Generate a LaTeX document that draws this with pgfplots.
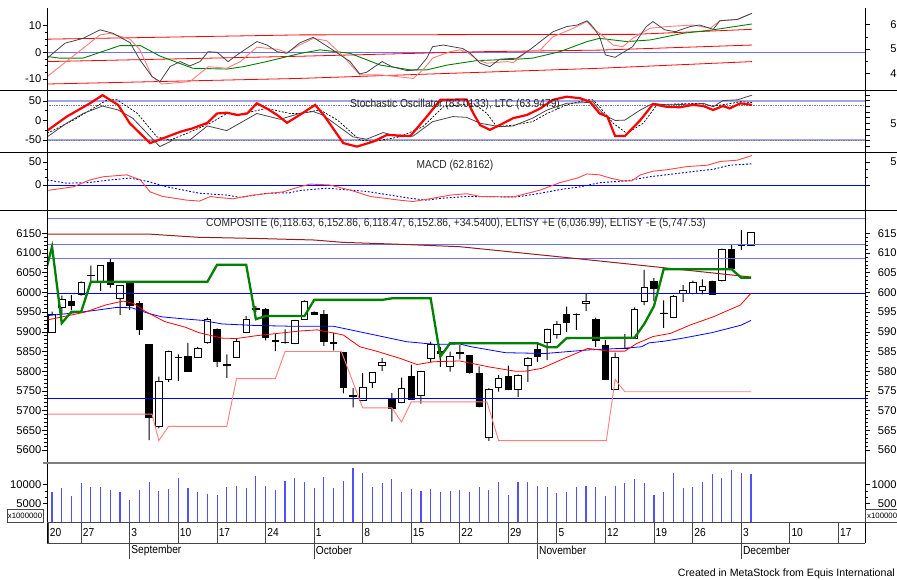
\documentclass[border=0pt]{standalone}
\usepackage{pgfplots}
\pgfplotsset{compat=1.18}
\usepackage{pgfplotstable}
\usepackage{fontspec}
\setmainfont{Liberation Sans}
\newfontfamily\narrowfont[FakeStretch=0.88]{Liberation Sans}

\definecolor{msred}{RGB}{255,0,0}
\definecolor{mspink}{RGB}{255,125,125}
\definecolor{msgreen}{RGB}{0,128,0}
\definecolor{msblue}{RGB}{0,0,255}
\definecolor{mslblue}{RGB}{110,110,255}
\definecolor{msbrown}{RGB}{150,30,30}
\definecolor{msvol}{RGB}{80,80,255}
\definecolor{lav}{RGB}{165,165,230}
\definecolor{msgray}{RGB}{70,70,70}
\definecolor{msmacd}{RGB}{255,70,70}
\definecolor{msdblue}{RGB}{0,0,190}

\pgfplotstableread{
i o h l c v
0 5899 5951 5897 5944 7950
1 5963 5992 5945 5982 9080
2 5976 5993 5955 5968 6970
3 5994 6028 5992 6026 10390
4 6043 6068 6028 6044 9430
5 6027 6069 6004 6068 9430
6 6076 6087 6012 6021 8640
7 5985 6018 5943 6017 8110
8 6026 6028 5955 5968 5920
9 5972 5978 5892 5907 8640
10 5867 5867 5625 5682 10660
11 5659 5786 5655 5775 8370
12 5780 5852 5773 5850 8900
13 5834 5843 5775 5836 11630
14 5838 5872 5800 5800 9080
15 5836 5862 5834 5858 8110
16 5872 5936 5870 5932 7500
17 5907 5909 5811 5826 7240
18 5817 5843 5783 5815 9430
19 5836 5882 5835 5875 9690
20 5899 5940 5897 5932 9080
21 5960 5966 5950 5957 12150
22 5957 5960 5878 5887 9690
23 5877 5896 5851 5876 8640
24 5874 5906 5870 5872 10920
25 5871 5930 5869 5928 11630
26 5932 5980 5930 5978 10660
27 5949 5952 5943 5945 9080
28 5945 5955 5864 5875 11890
29 5873 5898 5853 5871 9080
30 5847 5849 5744 5758 10920
31 5738 5757 5708 5737 14420
32 5727 5795 5725 5759 13100
33 5772 5798 5758 5796 9430
34 5815 5833 5800 5822 10390
35 5729 5745 5672 5706 11370
36 5721 5784 5719 5757 7950
37 5786 5817 5728 5729 8900
38 5738 5801 5718 5799 8370
39 5833 5875 5824 5868 8900
40 5850 5862 5811 5845 7950
41 5811 5850 5799 5837 8370
42 5848 5866 5830 5846 8640
43 5839 5841 5794 5796 7950
44 5795 5812 5708 5710 9430
45 5631 5757 5623 5755 8640
46 5758 5790 5748 5783 10660
47 5786 5814 5752 5754 7240
48 5754 5792 5735 5790 10660
49 5816 5836 5773 5833 10660
50 5855 5871 5824 5837 9690
51 5873 5908 5828 5906 9430
52 5894 5927 5883 5919 7680
53 5944 5964 5900 5923 7950
54 5944 5947 5905 5943 9430
55 5973 5998 5953 5978 9690
56 5932 5936 5862 5877 9430
57 5865 5879 5778 5780 6970
58 5755 5847 5753 5836 9690
59 5858 5894 5856 5859 10390
60 5884 5962 5882 5957 11370
61 5976 6057 5968 6013 10390
62 6028 6036 5978 6009 7240
63 5948 5980 5910 5946 8110
64 5937 5993 5935 5991 13100
65 5998 6019 5976 6005 9080
66 5998 6030 5995 6025 9430
67 6004 6033 5995 6014 10660
68 6027 6030 5994 5995 12840
69 6031 6111 6028 6109 11630
70 6108 6120 6058 6061 13820
71 6120 6158 6108 6119 13100
72 6118.63 6152.86 6118.47 6152.86 12840
}\candles

\pgfplotsset{
  base/.style={scale only axis, width=818pt, anchor=south west,
    xmin=-0.52, xmax=83.74, xtick=\empty, axis line style={draw=none},
    tick align=outside, major tick length=4.5pt, minor tick length=2.5pt,
    tick style={black, line width=0.6pt},
    yticklabel style={font=\fontsize{11.2}{12}\selectfont, inner sep=1pt},
    scaled y ticks=false},
  lft/.style={base, ytick pos=left},
  rgt/.style={base, ytick pos=right, yticklabel pos=right,
    yticklabel style={anchor=east, xshift=34.5pt}},
  p1/.style={at={(47pt,488.3pt)}, height=85.7pt},
  p2/.style={at={(47pt,426.3pt)}, height=62pt},
  p3/.style={at={(47pt,368.3pt)}, height=58pt},
  p4/.style={at={(47pt,116.3pt)}, height=252pt, ymin=5567.8, ymax=6207.4},
  p5/.style={at={(47pt,56.5pt)}, height=59.5pt, ymin=0, ymax=15658},
}

\begin{document}
\begin{tikzpicture}
% ---------------- Panel 1 ----------------
\begin{axis}[lft, p1, ymin=-14.4, ymax=17.7, ytick={-10,0,10}, yticklabels={-10,0,10}, minor y tick num=3]
\addplot[mslblue, line width=0.8pt] coordinates {(-0.52,0) (83.74,0)};
\addplot[msred, line width=0.8pt] coordinates {(-0.5,4.9) (25.5,6.5) (56.4,6.7) (60,6.7) (72.1,8.6)};
\addplot[msred, line width=0.8pt] coordinates {(-0.5,-3.5) (25.5,-1.5) (44,0.2) (56.4,0.8) (72.1,2.7)};
\addplot[msred, line width=0.8pt] coordinates {(-0.5,-11.9) (25.5,-9.8) (56.4,-6) (72.1,-3.5)};
\addplot[msgreen, line width=0.9pt] coordinates {(-0.5,-1.6) (0.8,-2.2) (3.2,-2.2) (7,2.5) (9.1,2.5) (11.1,-1.4) (14.5,-6) (18,-6.3) (19.7,-5.4) (22.1,-3.5) (25.5,-0.5) (27.6,0.9) (30.7,-0.4) (33.8,-4.8) (36.9,-6.6) (38.6,-6.6) (40.7,-4.8) (43.8,-3.1) (47.9,-2.6) (49.5,-2.2) (52.3,0.2) (55.1,4) (56.4,5.2) (59.2,4) (61.6,4.6) (65,7.1) (68.1,8.4) (72.1,10.6)};
\addplot[mspink, line width=0.9pt] coordinates {(-0.5,-9.1) (4.94,6.5) (5.97,7.1) (8.03,4.9) (9.06,0.9) (10.3,-9.1) (11.3,-11.9) (14.2,-11) (16.1,-5.4) (18,-6) (19.4,-3.5) (21.1,1.9) (23.2,1.1) (24.2,-0.1) (25.5,2.7) (26.9,5.2) (28.3,4.3) (30,-1.5) (31.7,-8.5) (33.8,-8.5) (35.5,-9.1) (37.2,-9.8) (38.2,-6.6) (39.2,-2.2) (41,0.2) (42,0.9) (42.7,0.2) (43.8,-2.9) (44.8,-4.1) (46.9,-3.5) (47.5,-3.9) (48.9,0.2) (50.3,0.9) (51.6,5.8) (53.7,9) (55.1,11.5) (55.7,9) (56.4,7.1) (57.8,2.7) (58.8,2.1) (59.8,5.2) (61.6,9) (63.3,9.6) (66,10.2) (67.8,9) (68.8,11.8) (70.6,12.3) (71.9,14.3)};
\addplot[msgray, line width=0.8pt] coordinates {(-0.5,-2.2) (1.34,3.4) (3.19,5.2) (4.94,8.4) (6.28,7.1) (8.03,3.6) (9.06,-2.9) (10.3,-9.1) (11.12,-11) (12.15,-5.4) (13.18,-3.5) (14.2,-5.1) (15.25,-3.5) (16.07,0.2) (17,0) (18.13,-3.5) (19.06,-1) (21.1,4) (22.15,2.7) (23.2,0.2) (24.2,-0.4) (25.5,3.5) (26.9,5.6) (28.9,0.9) (30.7,-3.5) (31.7,-8.1) (32.4,-7.5) (34,-3.5) (35,-5.4) (36.6,-6.9) (37.6,-6.6) (38.6,-2.2) (39.2,2.1) (40.3,2.7) (42.3,1.4) (43.1,-0.4) (44.1,-4.1) (45.1,-5.4) (46.1,-2.6) (47.9,-2.2) (49.2,0.9) (50.3,4) (51.6,7.7) (53,9.6) (54.1,10.2) (55.1,11.8) (55.7,9.6) (56.4,5.8) (57,-1) (58,-1.9) (59.8,2.1) (61.2,9.6) (61.9,11.5) (63.1,8.4) (64.2,7.7) (65.7,9.6) (66.7,10.2) (68.1,8.6) (68.8,11.8) (70.6,12.3) (72.1,14.6)};
\end{axis}
\begin{axis}[rgt, p1, ymin=33, ymax=68, ytick={40,50,60}, yticklabels={40,50,60}, minor y tick num=1]
\addplot[draw=none] coordinates {(0,50)};
\end{axis}

% ---------------- Panel 2 : Stochastic ----------------
\begin{axis}[lft, p2, ymin=-82.6, ymax=76.4, ytick={-50,0,50}, yticklabels={-50,0,50}, minor y tick num=1]
\addplot[lav, line width=1.5pt] coordinates {(-0.52,50) (83.74,50)};
\addplot[lav, line width=1.5pt] coordinates {(-0.52,-50) (83.74,-50)};
\addplot[gray, densely dotted, line width=0.7pt] coordinates {(-0.52,39) (83.74,39)};
\addplot[gray, densely dotted, line width=0.7pt] coordinates {(-0.52,-52) (83.74,-52)};
\addplot[black, line width=0.7pt, dash pattern=on 2pt off 1.5pt] coordinates {(-0.5,-33) (2.2,1) (5.7,53) (6.7,53) (8.8,18) (10.8,-42) (12.2,-50) (13.9,-33) (16.3,-7) (18,18) (19.4,16) (22.1,31) (24.5,18) (25.5,18) (27.6,27) (29.4,1) (31.7,-50) (33.1,-54) (35.8,-42) (38.2,-16) (40.3,35) (43.4,44) (44.8,18) (45.8,-16) (47.5,-12) (49.5,-3) (51,18) (53,40) (55.1,53) (55.7,53) (56.4,35) (57.8,-7) (59.2,-33) (60.9,-7) (62.3,40) (63.9,42) (66.7,44) (68.1,37) (69.5,42) (70.9,48) (72.1,46)};
\addplot[msgray, line width=0.8pt] coordinates {(-0.5,-42) (1.5,-7) (3.2,18) (5.2,37) (6.8,27) (8.3,6) (9.8,-33) (11.1,-67) (12.5,-50) (14.2,-50) (16,-14) (18,-26) (21.1,18) (23.5,3) (25.5,18) (26.9,23) (27.9,14) (31,-42) (32.4,-48) (34.1,-31) (35.8,-42) (37.2,-40) (39.2,-3) (41.3,10) (42.7,8) (44.1,-7) (46.1,-16) (47.5,-14) (49.5,6) (51,27) (53,44) (55.1,46) (55.7,48) (56.4,27) (56.9,14) (58,0) (59,1) (60.6,27) (61.9,44) (63.3,40) (66,42) (67.1,44) (68.1,35) (69.1,51) (70.6,53) (72.1,65)};
\addplot[msred, line width=2.2pt] coordinates {(-0.5,-26) (1.5,9.7) (3.9,44) (5.2,65) (6.8,40) (8,-7) (10.1,-58) (11.4,-46) (13.2,-29) (14.5,-20) (16,-6) (17,18) (18,20) (19.1,14) (20.1,18) (21.1,44) (22.1,31) (23.2,14) (24.2,-6) (25.5,14) (27.1,40) (28.1,10) (30,-58) (31.4,-67) (33.1,-54) (34.5,-37) (36.9,-40) (38.6,10) (40,53) (42.7,54) (43.4,18) (44.1,-12) (45.1,-24) (46.1,-12) (47.5,6) (48.9,14) (50.3,31) (51.6,53) (53,61) (54.4,57) (55.4,48) (56.4,18) (57.2,10) (58,-40) (59,-40) (60.6,1) (61.9,42) (63.3,35) (64.7,34) (66,40) (67.1,37) (68.1,27) (69.1,37) (69.8,31) (70.9,44) (72.1,40)};
\end{axis}
\begin{axis}[rgt, p2, ymin=-1.2, ymax=107.5, ytick={0,10,...,100}, yticklabels={,,,,,50,,,,,}]
\addplot[draw=none] coordinates {(0,50)};
\end{axis}

% ---------------- Panel 3 : MACD ----------------
\begin{axis}[lft, p3, ymin=-55.9, ymax=70.2, ytick={0,50}, yticklabels={0,50}, minor y tick num=2]
\addplot[msblue, line width=0.8pt] coordinates {(-0.52,0) (83.74,0)};
\addplot[msdblue, line width=0.9pt, dash pattern=on 1.8pt off 1.8pt] coordinates {(-0.5,11) (1.5,4) (3.6,5) (6,11) (8,15) (9.8,8) (11.8,-4) (15.2,-18) (18,-22) (19.4,-27) (22.1,-18) (24.5,-17) (25.5,-12) (28.3,-7) (32.4,-14) (36.9,-29) (38.6,-33) (40,-29) (42.7,-25) (47.9,-26) (50.3,-18) (52.6,-9) (54.4,-4) (56.4,5) (59.2,9) (61.6,18) (64.4,25) (66.7,31) (68.1,34) (69.8,43) (72.1,46)};
\addplot[msmacd, line width=0.9pt] coordinates {(-0.5,-12) (2.2,-4) (3.9,11) (5.3,18) (7.7,22) (9.1,11) (10.1,-15) (11.4,-25) (13.9,-33) (15.2,-35) (16.3,-25) (17,-27) (18.6,-30) (20.7,-22) (23.8,-15) (25.5,-4) (26.6,2) (28.6,0) (30.7,-11) (32.8,-25) (35.8,-33) (37.2,-36) (38.9,-30) (41,-22) (42.7,-19) (44.1,-25) (47.5,-26) (50.3,-11) (52.3,5) (54.1,15) (55.1,24) (56.4,22) (57.5,15) (58.8,9) (59.7,9) (60.6,22) (61.9,30) (63.3,33) (65.4,40) (67.5,43) (68.8,51) (70.6,54) (72.1,64)};
\end{axis}
\begin{axis}[rgt, p3, ymin=-55.9, ymax=70.2, ytick={0,50}, yticklabels={,50}, minor y tick num=2]
\addplot[draw=none] coordinates {(0,50)};
\end{axis}

% ---------------- Panel 4 : price ----------------
% wicks
\begin{axis}[rgt, p4, ybar stacked, bar width=1pt, ytick={5600,5650,...,6150},
  yticklabels={5600,5650,5700,5750,5800,5850,5900,5950,6000,6050,6100,6150}, minor y tick num=4]
\addplot[draw=none, fill=none] table[x=i, y=l] {\candles};
\addplot[draw=none, fill=black] table[x=i, y expr={\thisrow{h}-\thisrow{l}}] {\candles};
\end{axis}
% bodies
\begin{axis}[base, p4, ytick=\empty, ybar stacked, bar width=6.5pt]
\addplot[draw=none, fill=none] table[x=i, y expr={min(\thisrow{o},\thisrow{c})}] {\candles};
\addplot[draw=black, fill=white, line width=0.8pt] table[x=i, y expr={max(\thisrow{c}-\thisrow{o},0)}] {\candles};
\addplot[draw=black, fill=black, line width=0.8pt] table[x=i, y expr={max(\thisrow{o}-\thisrow{c},0)}] {\candles};
\end{axis}
% lines
\begin{axis}[lft, p4, ytick={5600,5650,...,6150},
  yticklabels={5600,5650,5700,5750,5800,5850,5900,5950,6000,6050,6100,6150}, minor y tick num=4]
\addplot[mslblue, line width=0.8pt] coordinates {(-0.52,6188) (83.74,6188)};
\addplot[mslblue, line width=0.8pt] coordinates {(-0.52,6121) (83.74,6121)};
\addplot[mslblue, line width=0.8pt] coordinates {(-0.52,6087) (83.74,6087)};
\addplot[msblue, line width=0.8pt] coordinates {(-0.52,5998) (83.74,5998)};
\addplot[msblue, line width=0.8pt] coordinates {(-0.52,5731) (83.74,5731)};
\addplot[msbrown, line width=1pt] coordinates {(-0.52,6148) (10,6148) (15,6140) (21,6137) (27,6133) (30,6127) (36,6122) (42,6116) (52,6091) (60.6,6069) (72,6039)};
\addplot[msblue, line width=0.8pt] coordinates {(-0.5,5941) (1.5,5946) (4,5953) (6.7,5962) (8.2,5961) (9.9,5947) (11.3,5938) (13.5,5933) (15.5,5929) (17.5,5920) (21,5916) (25,5914) (29,5914) (31.7,5900) (34,5888) (36.5,5875) (39.5,5868) (42,5869) (43.2,5862) (46.7,5847) (50.8,5845) (55.2,5854) (58.7,5858) (60.7,5862) (61.5,5872) (63,5876) (65,5884) (68,5898) (71,5917) (72,5929)};
\addplot[msred, line width=0.8pt] coordinates {(-0.5,5930) (3.4,5950) (5.5,5968) (7.3,5978) (8.4,5972) (9.6,5952) (11.6,5926) (13.7,5912) (15.1,5898) (17.5,5884) (19,5883) (21,5890) (24,5898) (25.5,5902) (27.3,5905) (30,5892) (31.7,5862) (33.4,5851) (35.8,5833) (37.6,5817) (39.3,5824) (42,5826) (45,5811) (47.7,5800) (48.7,5800) (50.4,5807) (52.8,5833) (55.2,5858) (57.3,5851) (59,5851) (60.2,5870) (61.9,5888) (63.7,5896) (65.7,5917) (68.1,5938) (70.9,5968) (72,5998)};
\addplot[mspink, line width=0.9pt] coordinates {(-0.52,5691) (10.3,5691) (11,5624) (12,5660) (18,5660) (19,5781) (23,5781) (24,5850) (29.8,5850) (32,5707) (35,5707) (36,5671) (37,5722) (44.8,5722) (46,5624) (57.1,5624) (58,5779) (59,5748) (72,5748)};
\addplot[msgreen, line width=2.3pt] coordinates {(-0.52,6066) (0,6116) (1,5922) (2,5951) (3,5951) (4,6027) (16,6027) (17,6070) (20,6070) (21,5932) (22,5940) (26,5940) (27,5981) (34,5981) (35,5985) (39,5985) (40,5837) (41,5871) (50,5871) (51,5861) (52,5861) (53,5884) (60,5885) (61,5920) (62,5965) (63,6059) (70,6059) (71,6037) (72,6037)};
\end{axis}

% ---------------- Panel 5 : volume ----------------
\begin{axis}[lft, p5, ytick={5000,10000}, yticklabels={5000,10000}, minor y tick num=2]
\addplot[ycomb, msvol, line width=1.1pt] table[x=i, y=v] {\candles};
\end{axis}
\begin{axis}[rgt, p5, ytick={5000,10000}, yticklabels={5000,10000}, minor y tick num=2]
\addplot[draw=none] coordinates {(0,5000)};
\end{axis}

% ---------------- date rows ----------------
\begin{axis}[base, at={(47pt,36pt)}, height=20.5pt, ymin=0, ymax=1, ytick=\empty,
  tick align=inside,
  xtick={-0.4,3,8,13,17,22,27,32,37,42,47,50,52,57,62,66,71,76,81},
  xticklabels={20,27,3,10,17,24,1,8,15,22,29,,5,12,19,26,3,10,17},
  xtick style={draw=none}, xmajorgrids, grid style={msgray, line width=0.8pt},
  xticklabel style={font=\narrowfont\fontsize{11.6}{13}\selectfont, anchor=west, yshift=10.5pt, xshift=0.5pt, inner sep=1pt}]
\addplot[draw=none] coordinates {(0,0.5)};
\end{axis}
\begin{axis}[base, at={(47pt,20pt)}, height=16pt, ymin=0, ymax=1, ytick=\empty,
  tick align=inside,
  xtick={8,27,50,71}, xticklabels={September,October,November,December},
  xtick style={draw=none}, xmajorgrids, grid style={msgray, line width=0.8pt},
  xticklabel style={font=\narrowfont\fontsize{11.6}{13}\selectfont, anchor=west, yshift=8.3pt, xshift=0.5pt, inner sep=1pt}]
\addplot[draw=none] coordinates {(0,0.5)};
\end{axis}

% ---------------- frames ----------------
\draw[black, line width=0.8pt] (47pt,571pt) -- (47pt,36pt);
\draw[black, line width=0.8pt] (865pt,571pt) -- (865pt,36pt);
\draw[black, line width=1.2pt] (0pt,488.3pt) -- (897pt,488.3pt);
\draw[black, line width=1.2pt] (0pt,426.3pt) -- (897pt,426.3pt);
\draw[black, line width=1.2pt] (0pt,368.3pt) -- (897pt,368.3pt);
\draw[gray, line width=2pt] (43pt,116.4pt) -- (865pt,116.4pt);
\draw[msgray, line width=0.9pt] (47pt,56.3pt) -- (865pt,56.3pt);
\draw[msgray, line width=0.9pt] (47pt,36pt) -- (865pt,36pt);
\draw[msgray, line width=0.7pt] (7pt,56.3pt) rectangle (43pt,70pt);
\node[font=\fontsize{7.8}{9}\selectfont, inner sep=0pt] at (25pt,63pt) {x1000000};
\draw[msgray, line width=0.7pt] (865pt,56.3pt) rectangle (910pt,70pt);
\node[font=\fontsize{7.8}{9}\selectfont, inner sep=0pt, anchor=west] at (867pt,63pt) {x1000000};

% ---------------- titles ----------------
\node[font=\narrowfont\fontsize{11.6}{13}\selectfont, inner sep=0pt, text=black!85] at (455pt,474pt) {Stochastic Oscillator (83.0133), LTC (63.9479)};
\node[font=\narrowfont\fontsize{11.6}{13}\selectfont, inner sep=0pt, text=black!85] at (455pt,413pt) {MACD (62.8162)};
\node[font=\narrowfont\fontsize{11.6}{13}\selectfont, inner sep=0pt, text=black!85] at (456pt,356pt) {COMPOSITE (6,118.63, 6,152.86, 6,118.47, 6,152.86, +34.5400), ELTiSY +E (6,036.99), ELTiSY -E (5,747.53)};
\node[font=\fontsize{10.6}{12}\selectfont, inner sep=0pt, anchor=base east] at (895pt,3pt) {Created in MetaStock from Equis International};

\pgfresetboundingbox
\path[use as bounding box] (0pt,0pt) rectangle (897pt,579pt);
\end{tikzpicture}
\end{document}
